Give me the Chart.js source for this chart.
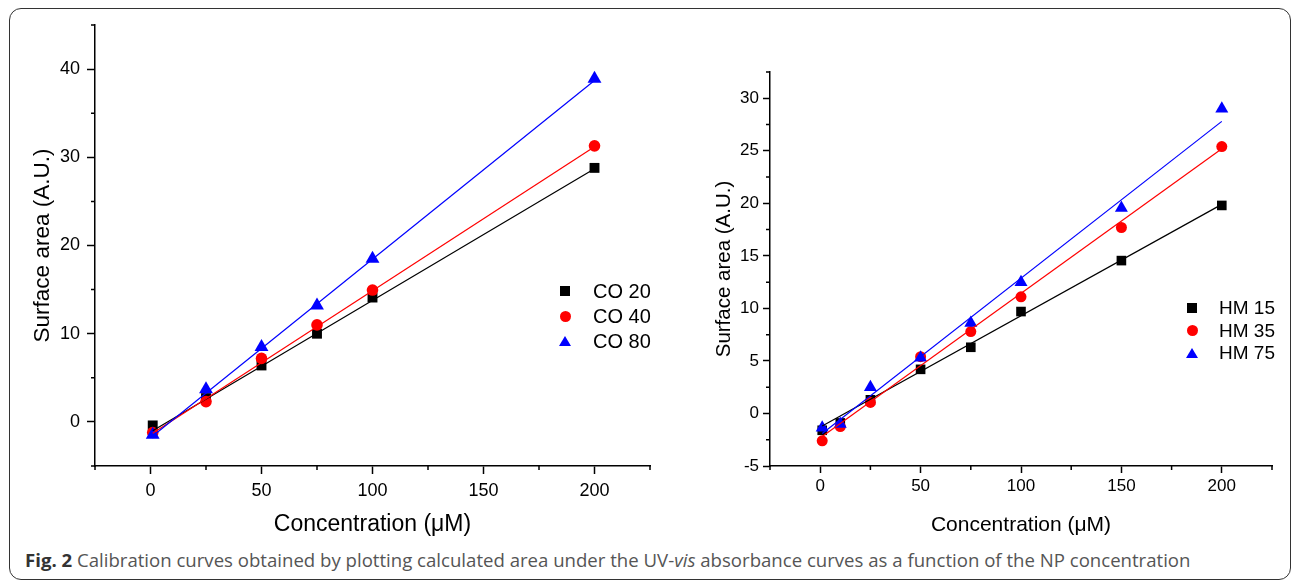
<!DOCTYPE html>
<html>
<head>
<meta charset="utf-8">
<script src="https://cdn.jsdelivr.net/npm/chart.js@4/dist/chart.umd.min.js"></script>
<style>
  body { margin: 0; background: #fff; width: 1292px; height: 582px; overflow: hidden; position: relative; }
  #frame { position: absolute; left: 9px; top: 8px; width: 1282px; height: 572px; box-sizing: border-box;
           border: 1.5px solid #333; border-radius: 12px; }
  canvas { position: absolute; top: 0; }
  #cvCO { left: 0; }
  #cvHM { left: 660px; }
  .legend { position: absolute; font-family: 'Liberation Sans', Arial, sans-serif; color: #000; }
  .legend .row { position: absolute; left: 0; white-space: nowrap; display: flex; align-items: center; }
  .legend .mk { display: inline-block; }
  #caption { position: absolute; left: 25px; top: 547px; font-family: 'Open Sans', sans-serif; font-size: 18.6px;
             color: #555; white-space: nowrap; }
  #caption b { color: #333; }
</style>
</head>
<body>
<div id="frame"></div>
<canvas id="cvCO" width="660" height="540"></canvas>
<canvas id="cvHM" width="632" height="540"></canvas>
<div id="legCO" class="legend"></div>
<div id="legHM" class="legend"></div>
<div id="caption"><b>Fig. 2</b> Calibration curves obtained by plotting calculated area under the UV-<i>vis</i> absorbance curves as a function of the NP concentration</div>
<script>
// ---- data ----
const xTicks = [0, 50, 100, 150, 200];
const coYTicks = [0, 10, 20, 30, 40];
const hmYTicks = [-5, 0, 5, 10, 15, 20, 25, 30];

const coLabels = ['CO 20', 'CO 40', 'CO 80'];
const coX = [1, 25, 50, 75, 100, 200];
const co20 = [-0.4, 2.7, 6.4, 10.0, 14.1, 28.8];
const co40 = [-1.2, 2.3, 7.2, 11.0, 14.95, 31.3];
const co80 = [-1.45, 3.7, 8.5, 13.2, 18.5, 38.9];

const hmLabels = ['HM 15', 'HM 35', 'HM 75'];
const hmX = [1, 10, 25, 50, 75, 100, 150, 200];
const hm15 = [-1.6, -0.9, 1.3, 4.2, 6.3, 9.7, 14.55, 19.8];
const hm35 = [-2.6, -1.25, 1.05, 5.4, 7.8, 11.1, 17.7, 25.4];
const hm75 = [-1.35, -1.0, 2.5, 5.3, 8.6, 12.5, 19.55, 29.0];

// linear fit lines (end points)
const fitX = [1, 200];
const co20Fit = [-1.0, 28.7];
const co40Fit = [-1.3, 31.2];
const co80Fit = [-1.6, 38.7];
const hm15Fit = [-1.2, 19.9];
const hm35Fit = [-2.2, 25.2];
const hm75Fit = [-1.9, 27.8];

const colors = ['#000000', '#ff0000', '#0000ff'];
const shapes = ['rect', 'circle', 'triangle'];

Chart.defaults.font.family = "'Liberation Sans', Arial, sans-serif";
Chart.defaults.color = '#000';

const pts = (xs, ys) => xs.map((x, i) => ({x: x, y: ys[i]}));

// small outward minor ticks between the labelled ones
const minorTicks = {
  id: 'minorTicks',
  afterDraw(chart, args, opts) {
    const ctx = chart.ctx, area = chart.chartArea;
    ctx.save();
    ctx.strokeStyle = '#000';
    ctx.lineWidth = 1.5;
    ['x', 'y'].forEach(id => {
      const s = chart.scales[id];
      const step = opts[id];
      const major = s.ticks.map(t => t.value);
      ctx.beginPath();
      for (let v = s.min; v <= s.max + 1e-9; v += step) {
        if (major.some(m => Math.abs(m - v) < 1e-9)) continue;
        const p = s.getPixelForValue(v);
        if (id === 'x') { ctx.moveTo(p, area.bottom); ctx.lineTo(p, area.bottom + opts.len); }
        else { ctx.moveTo(area.left - opts.len, p); ctx.lineTo(area.left, p); }
      }
      ctx.stroke();
    });
    ctx.restore();
  }
};

function makeChart(id, c) {
  const datasets = [];
  // fit lines first so they are drawn over the markers
  for (let i = 2; i >= 0; i--) {
    datasets.push({
      label: c.labels[i] + ' fit',
      data: pts(fitX, c.fits[i]),
      showLine: true, pointRadius: 0,
      borderColor: colors[i], borderWidth: 1.2
    });
  }
  for (let i = 2; i >= 0; i--) {
    datasets.push({
      label: c.labels[i],
      data: pts(c.x, c.ys[i]),
      pointStyle: shapes[i],
      pointRadius: c.radius[i],
      backgroundColor: colors[i], borderColor: colors[i], borderWidth: 0
    });
  }

  const tickAt = list => s => { s.ticks = list.map(v => ({value: v})); };

  return new Chart(document.getElementById(id), {
    type: 'scatter',
    data: { datasets },
    options: {
      responsive: false,
      animation: false,
      layout: { padding: c.padding },
      plugins: {
        legend: { display: false },
        tooltip: { enabled: false },
        minorTicks: { x: 25, y: c.yMinor, len: 4 }
      },
      scales: {
        x: {
          type: 'linear', min: -25, max: 225,
          afterBuildTicks: tickAt(xTicks),
          afterFit: s => { s.height = 74; },
          grid: { drawOnChartArea: false, drawTicks: true, tickLength: c.tickLen, tickColor: '#000', tickWidth: 1.5 },
          border: { display: true, color: '#000', width: 1.5 },
          ticks: { font: { size: c.tickSize }, padding: c.xPad, maxRotation: 0 },
          title: { display: true, text: 'Concentration (μM)', font: { size: c.xTitleSize },
                   padding: { top: 0, bottom: c.xTitlePad } }
        },
        y: {
          type: 'linear', min: -5, max: c.yMax,
          afterBuildTicks: tickAt(c.yTicks),
          afterFit: s => { s.width = c.yWidth; },
          grid: { drawOnChartArea: false, drawTicks: true, tickLength: c.tickLen, tickColor: '#000', tickWidth: 1.5 },
          border: { display: true, color: '#000', width: 1.5 },
          ticks: { font: { size: c.tickSize }, padding: c.yPad },
          title: { display: true, text: 'Surface area (A.U.)', font: { size: c.yTitleSize },
                   padding: { top: c.yTitlePad, bottom: 0 } }
        }
      }
    },
    plugins: [minorTicks]
  });
}

function makeLegend(id, labels, left, top, gap, size, textX, mk) {
  const el = document.getElementById(id);
  el.style.left = left + 'px';
  el.style.top = top + 'px';
  labels.forEach((lab, i) => {
    const row = document.createElement('div');
    row.className = 'row';
    row.style.top = (i * gap) + 'px';
    row.style.height = '0px';
    row.style.fontSize = size + 'px';
    const m = document.createElement('span');
    m.className = 'mk';
    if (shapes[i] === 'rect') {
      m.style.cssText = `width:${mk}px;height:${mk}px;background:${colors[i]};margin-left:${-mk / 2}px`;
    } else if (shapes[i] === 'circle') {
      m.style.cssText = `width:${mk + 1}px;height:${mk + 1}px;border-radius:50%;background:${colors[i]};margin-left:${-(mk + 1) / 2}px`;
    } else {
      const w = mk + 3;
      m.style.cssText = `width:0;height:0;border-left:${w / 2}px solid transparent;border-right:${w / 2}px solid transparent;` +
        `border-bottom:${mk}px solid ${colors[i]};margin-left:${-w / 2}px`;
    }
    const t = document.createElement('span');
    t.textContent = lab;
    t.style.position = 'absolute';
    t.style.left = textX + 'px';
    t.style.lineHeight = '0';
    row.appendChild(m);
    row.appendChild(t);
    el.appendChild(row);
  });
}

makeChart('cvCO', {
  labels: coLabels, x: coX, ys: [co20, co40, co80], fits: [co20Fit, co40Fit, co80Fit],
  radius: [7, 5.8, 8],
  padding: { top: 25, right: 10, left: 0, bottom: 0 },
  yMax: 45, yTicks: coYTicks, yMinor: 5, yWidth: 95, tickLen: 8,
  tickSize: 18, xPad: 6, yPad: 7,
  xTitleSize: 23, xTitlePad: 2, yTitleSize: 22.5, yTitlePad: 29
});

makeChart('cvHM', {
  labels: hmLabels, x: hmX, ys: [hm15, hm35, hm75], fits: [hm15Fit, hm35Fit, hm75Fit],
  radius: [6.8, 5.5, 7.5],
  padding: { top: 72, right: 20, left: 0, bottom: 0 },
  yMax: 32.5, yTicks: hmYTicks, yMinor: 2.5, yWidth: 110, tickLen: 7,
  tickSize: 17, xPad: 3, yPad: 4,
  xTitleSize: 21, xTitlePad: 2, yTitleSize: 20.5, yTitlePad: 52
});

makeLegend('legCO', coLabels, 565, 291, 25, 20, 28, 10);
makeLegend('legHM', hmLabels, 1192, 308, 22.5, 19, 27, 10);
</script>
</body>
</html>
